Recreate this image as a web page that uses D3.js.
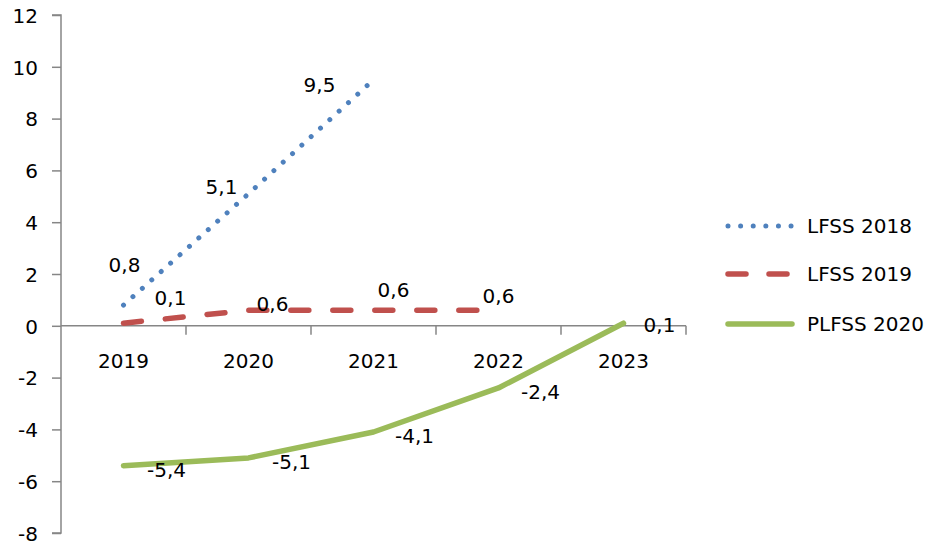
<!DOCTYPE html>
<html>
<head>
<meta charset="utf-8">
<script src="https://cdn.jsdelivr.net/npm/d3@7"></script>
<style>
  html, body { margin: 0; padding: 0; background: #fff; }
  svg { display: block; font-family: "DejaVu Sans", sans-serif; }
</style>
</head>
<body>
<svg id="chart" width="929" height="547"></svg>
<script>
// ---- data ----
const categories = ["2019", "2020", "2021", "2022", "2023"];
const yTicks = [-8, -6, -4, -2, 0, 2, 4, 6, 8, 10, 12];
const seriesNames = ["LFSS 2018", "LFSS 2019", "PLFSS 2020"];
const lfss2018 = [0.8, 5.1, 9.5];
const lfss2019 = [0.1, 0.6, 0.6, 0.6];
const plfss2020 = [-5.4, -5.1, -4.1, -2.4, 0.1];

// ---- styles (label offsets relative to points, in px) ----
const styles = [
  { color: "#4F81BD", width: 5, dash: "0.01 12.6", cap: "round",
    offsets: [[1, -40], [-27, -7], [-54, 5]] },
  { color: "#C0504D", width: 5.5, dash: "18 24", cap: "round",
    offsets: [[47, -25], [24, -6], [20, -20], [0, -14]] },
  { color: "#9BBB59", width: 5.5, dash: null, cap: "round",
    offsets: [[43, 4], [43, 4], [41, 4], [42, 4], [36, 2]] }
];
const seriesValues = [lfss2018, lfss2019, plfss2020];

const svg = d3.select("#chart");
const axisColor = "#868686";
const fontSize = 20;

const x = d3.scaleBand().domain(categories).range([61, 686]).paddingInner(0).paddingOuter(0);
const y = d3.scaleLinear().domain([-8, 12]).range([533, 15]);
const cx = c => x(c) + x.bandwidth() / 2;
const fmt = v => String(v).replace(".", ",");

// y axis
const yAxis = d3.axisLeft(y).tickValues(yTicks).tickSize(9).tickPadding(14).tickFormat(d => d);
const gy = svg.append("g").attr("transform", "translate(61,0)").call(yAxis);
gy.select(".domain").attr("stroke", axisColor).attr("stroke-width", 1.5).attr("d", `M-9,${y(12)}H0V${y(-8)}H-9`);
gy.selectAll(".tick line").attr("stroke", axisColor).attr("stroke-width", 1.5);
gy.selectAll(".tick text").attr("fill", "#000").style("font-size", fontSize + "px")
  .style("font-family", "DejaVu Sans").attr("dy", "0.36em");

// x axis at zero
const gx = svg.append("g").attr("transform", `translate(0,${y(0)})`);
gx.append("line").attr("x1", 61).attr("x2", 686).attr("y1", 0).attr("y2", 0)
  .attr("stroke", axisColor).attr("stroke-width", 1.5);
const bounds = categories.slice(1).map(c => x(c)).concat([x(categories[categories.length - 1]) + x.bandwidth()]);
gx.selectAll("line.tk").data(bounds).enter().append("line").attr("class", "tk")
  .attr("x1", d => d).attr("x2", d => d).attr("y1", 0).attr("y2", 9)
  .attr("stroke", axisColor).attr("stroke-width", 1.5);
gx.selectAll("text").data(categories).enter().append("text")
  .attr("x", d => cx(d)).attr("y", 42).attr("text-anchor", "middle")
  .attr("fill", "#000").style("font-size", fontSize + "px").text(d => d);

// lines
const line = d3.line().x(d => cx(d.c)).y(d => y(d.v));
seriesValues.forEach((vals, si) => {
  const st = styles[si];
  const pts = vals.map((v, i) => ({ c: categories[i], v }));
  const p = svg.append("path").datum(pts).attr("d", line)
    .attr("fill", "none").attr("stroke", st.color).attr("stroke-width", st.width)
    .attr("stroke-linecap", st.cap).attr("stroke-linejoin", "round");
  if (st.dash) p.attr("stroke-dasharray", st.dash);
});

// data labels
seriesValues.forEach((vals, si) => {
  const st = styles[si];
  vals.forEach((v, i) => {
    const o = st.offsets[i];
    svg.append("text")
      .attr("x", cx(categories[i]) + o[0])
      .attr("y", y(v) + o[1])
      .attr("dy", "0.36em")
      .attr("text-anchor", "middle")
      .attr("fill", "#000").style("font-size", fontSize + "px")
      .text(fmt(v));
  });
});

// legend
const legendRows = [226, 274, 324];
seriesNames.forEach((name, si) => {
  const st = styles[si];
  const ly = legendRows[si];
  const l = svg.append("line").attr("x1", 728).attr("x2", 792).attr("y1", ly).attr("y2", ly)
    .attr("stroke", st.color).attr("stroke-width", st.width).attr("stroke-linecap", st.cap);
  if (si === 1) l.attr("stroke-dasharray", "18 23");
  else if (st.dash) l.attr("stroke-dasharray", st.dash);
  svg.append("text").attr("x", 807).attr("y", ly).attr("dy", "0.36em")
    .attr("fill", "#000").style("font-size", fontSize + "px").text(name);
});
</script>
</body>
</html>
